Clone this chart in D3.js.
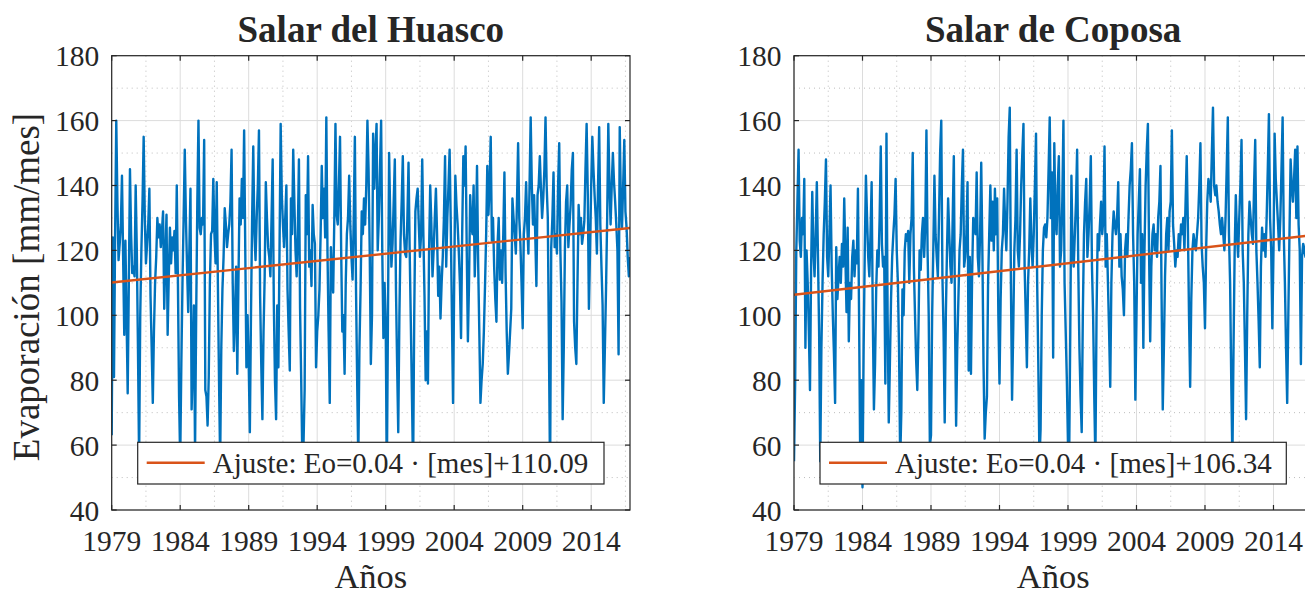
<!DOCTYPE html>
<html><head><meta charset="utf-8">
<script src="https://cdn.jsdelivr.net/npm/d3@7"></script>
<style>
body{margin:0;background:#fff}
svg{display:block}
text{font-family:"Liberation Serif","Times New Roman",serif;fill:#262626}
</style>
</head><body>
<svg id="chart" width="1305" height="595"></svg>
<script>
// ---------- data ----------
const startYear = 1979;
const yearTicks = [1979, 1984, 1989, 1994, 1999, 2004, 2009, 2014];
const yTicks = [40, 60, 80, 100, 120, 140, 160, 180];
const titles = ["Salar del Huasco", "Salar de Coposa"];
const legendLabels = ["Ajuste: Eo=0.04 \u00B7 [mes]+110.09", "Ajuste: Eo=0.04 \u00B7 [mes]+106.34"];
const xLabel = "Años";
const yLabel = "Evaporación [mm/mes]";

// monthly evaporation, Jan 1979 .. Nov 2016
const huasco = [
 63,124,81,125,160,135,117,122,128,143,118,94,
 123,100,76,110,145,125,113,115,112,140,120,90,
 55,100,120,135,155,130,116,122,128,139,106,90,
 73,95,110,118,130,124,128,121,126,132,102,118,
 131,94,112,127,116,124,120,126,113,140,110,75,
 55,85,110,130,151,130,115,101,120,139,71,85,
 103,58,100,135,160,127,125,130,128,154,77,75,
 66,81,110,125,126,142,125,116,141,110,80,55,
 90,108,118,133,128,121,125,128,135,151,110,89,
 100,115,82,110,136,128,142,130,157,120,84,100,
 85,64,100,130,152,125,117,130,140,157,106,85,
 68,95,112,141,130,121,118,112,130,148,104,80,
 68,103,84,120,159,137,128,121,130,140,108,95,
 83,136,125,151,135,120,112,125,148,102,80,55,
 60,77,137,125,149,115,120,109,134,125,122,84,
 95,100,108,125,146,130,139,124,161,120,95,73,
 121,112,107,130,159,131,128,140,155,120,95,100,
 82,110,125,130,143,128,118,111,130,155,108,80,
 55,90,108,132,125,136,128,140,160,145,120,85,
 100,156,139,150,159,120,130,145,160,120,93,110,
 98,50,100,150,130,115,122,135,148,108,85,64,
 100,123,135,149,125,119,118,130,147,120,98,75,
 52,100,132,136,139,128,118,125,148,125,106,80,
 95,79,120,140,128,112,120,130,139,125,106,115,
 99,110,118,130,149,115,130,140,151,128,100,73,
 110,143,134,128,120,110,93,125,149,140,152,120,
 92,110,137,128,125,140,112,125,146,116,95,73,
 80,85,95,109,125,146,131,140,155,123,130,115,
 105,98,122,130,111,120,110,125,144,113,95,82,
 88,95,102,136,130,125,119,135,153,130,122,110,
 96,125,130,141,128,119,140,161,140,128,137,125,
 109,137,140,149,139,130,136,145,161,140,130,90,
 50,121,130,144,121,125,119,140,153,120,104,68,
 90,121,135,140,121,128,134,145,150,98,90,85,
 110,134,125,130,122,125,129,145,159,138,102,120,
 140,155,145,137,130,119,140,158,128,115,103,73,
 90,108,130,159,140,128,140,150,141,135,128,120,
 88,158,135,127,140,154,132,127,118,112,118
];
const coposa = [
 55,79,120,135,151,123,118,130,125,142,90,120,
 110,95,77,115,138,120,112,125,141,118,95,55,
 90,110,125,135,148,118,112,125,140,115,100,88,
 73,121,105,112,118,110,122,115,136,118,101,127,
 92,110,105,118,123,112,120,116,139,100,55,80,
 47,90,120,143,130,118,112,125,141,100,71,85,
 108,120,115,130,152,122,115,118,79,156,100,67,
 85,105,118,125,131,142,120,110,90,55,70,108,
 100,120,125,123,126,110,125,130,150,115,100,86,
 77,95,120,114,125,130,118,128,157,120,100,60,
 63,100,120,143,125,118,112,130,150,160,112,95,
 67,100,120,136,125,115,110,130,149,100,66,90,
 105,120,125,140,151,115,118,125,141,83,118,82,
 112,130,128,125,144,118,112,125,147,120,85,62,
 70,75,110,125,140,123,135,120,139,125,136,100,
 79,105,120,125,139,128,120,135,155,164,110,74,
 95,120,130,151,120,115,125,140,150,159,115,100,
 84,110,120,136,122,115,125,140,156,110,85,55,
 65,100,120,127,128,124,130,145,161,130,144,87,
 153,130,125,140,149,115,120,135,160,110,95,80,
 60,55,95,143,120,115,125,135,151,115,90,75,
 64,100,125,135,142,118,125,135,149,115,100,75,
 55,100,125,120,128,135,125,130,152,115,125,110,
 95,78,110,125,132,128,125,130,141,115,125,112,
 108,100,120,125,118,130,140,145,153,125,110,74,
 100,125,135,145,110,125,90,120,140,151,159,120,
 92,115,125,128,120,125,118,130,135,146,105,71,
 90,112,125,130,120,132,135,157,128,122,115,120,
 118,125,120,128,125,130,120,135,149,128,100,78,
 105,120,125,122,120,125,130,140,153,122,115,110,
 96,120,135,142,140,135,150,164,140,137,140,135,
 132,128,125,130,125,120,130,145,161,125,110,80,
 55,90,120,137,125,118,130,140,154,120,110,90,
 68,100,125,135,130,125,122,140,154,120,110,98,
 84,115,127,120,125,118,130,145,162,130,120,96,
 120,156,142,135,128,120,130,145,161,125,110,90,
 73,100,125,148,140,135,142,151,130,152,128,120,
 85,118,122,120,118,125,130,128,120,118,115
];
// fitted trend: values at first and last month
const trendHuasco = [110.09, 126.9];
const trendCoposa = [106.34, 124.7];

// ---------- layout ----------
const svg = d3.select("#chart");
const plotTop = 55.7, plotBottom = 510, plotW = 518.3;
const panels = [
  {x0: 111.7, data: huasco, trend: trendHuasco, title: titles[0], legend: legendLabels[0], ylabel: true},
  {x0: 794, data: coposa, trend: trendCoposa, title: titles[1], legend: legendLabels[1], ylabel: false}
];
const blue = "#0072BD", orange = "#D95319", axisCol = "#262626";

const nMonths = huasco.length;
const xDomain = [startYear, startYear + (nMonths - 1) / 12];
const y = d3.scaleLinear().domain([40, 180]).range([plotBottom, plotTop]);
const minorY = d3.range(50, 180, 20);
const minorX = yearTicks.map(t => t + 2.5);

panels.forEach((p, k) => {
  const x = d3.scaleLinear().domain(xDomain).range([p.x0, p.x0 + plotW]);
  const g = svg.append("g");
  const clipId = "clip" + k;
  svg.append("clipPath").attr("id", clipId).append("rect")
    .attr("x", p.x0).attr("y", plotTop).attr("width", plotW).attr("height", plotBottom - plotTop);

  // grid
  const grid = g.append("g");
  grid.selectAll(".mnx").data(minorX).enter().append("line")
    .attr("x1", d => x(d)).attr("x2", d => x(d)).attr("y1", plotTop).attr("y2", plotBottom)
    .attr("stroke", "#bdbdbd").attr("stroke-width", 1).attr("stroke-dasharray", "1,4");
  grid.selectAll(".mny").data(minorY).enter().append("line")
    .attr("x1", p.x0).attr("x2", p.x0 + plotW).attr("y1", d => y(d)).attr("y2", d => y(d))
    .attr("stroke", "#bdbdbd").attr("stroke-width", 1).attr("stroke-dasharray", "1,4");
  grid.selectAll(".mjx").data(yearTicks).enter().append("line")
    .attr("x1", d => x(d)).attr("x2", d => x(d)).attr("y1", plotTop).attr("y2", plotBottom)
    .attr("stroke", "#dcdcdc").attr("stroke-width", 1);
  grid.selectAll(".mjy").data(yTicks).enter().append("line")
    .attr("x1", p.x0).attr("x2", p.x0 + plotW).attr("y1", d => y(d)).attr("y2", d => y(d))
    .attr("stroke", "#dcdcdc").attr("stroke-width", 1);

  // data line
  const line = d3.line().x((d, i) => x(startYear + i / 12)).y(d => y(d));
  g.append("path").datum(p.data).attr("d", line).attr("clip-path", `url(#${clipId})`)
    .attr("fill", "none").attr("stroke", blue).attr("stroke-width", 2.4).attr("stroke-linejoin", "round");

  // trend
  g.append("line").attr("clip-path", `url(#${clipId})`)
    .attr("x1", x(xDomain[0])).attr("y1", y(p.trend[0]))
    .attr("x2", x(xDomain[1])).attr("y2", y(p.trend[1]))
    .attr("stroke", orange).attr("stroke-width", 2.4);

  // axes box
  const ax = g.append("g");
  ax.append("rect").attr("x", p.x0).attr("y", plotTop).attr("width", plotW).attr("height", plotBottom - plotTop)
    .attr("fill", "none").attr("stroke", axisCol).attr("stroke-width", 1.2);
  ax.selectAll(".tb").data(yearTicks).enter().append("line")
    .attr("x1", d => x(d)).attr("x2", d => x(d)).attr("y1", plotBottom).attr("y2", plotBottom - 5)
    .attr("stroke", axisCol).attr("stroke-width", 1.2);
  ax.selectAll(".tt").data(yearTicks).enter().append("line")
    .attr("x1", d => x(d)).attr("x2", d => x(d)).attr("y1", plotTop).attr("y2", plotTop + 5)
    .attr("stroke", axisCol).attr("stroke-width", 1.2);
  ax.selectAll(".tl").data(yTicks).enter().append("line")
    .attr("x1", p.x0).attr("x2", p.x0 + 5).attr("y1", d => y(d)).attr("y2", d => y(d))
    .attr("stroke", axisCol).attr("stroke-width", 1.2);
  ax.selectAll(".tr").data(yTicks).enter().append("line")
    .attr("x1", p.x0 + plotW).attr("x2", p.x0 + plotW - 5).attr("y1", d => y(d)).attr("y2", d => y(d))
    .attr("stroke", axisCol).attr("stroke-width", 1.2);

  ax.selectAll(".xl").data(yearTicks).enter().append("text")
    .attr("x", d => x(d)).attr("y", 550.5).attr("text-anchor", "middle")
    .style("font-size", "29.5px").text(d => d);
  ax.selectAll(".yl").data(yTicks).enter().append("text")
    .attr("x", p.x0 - 12.5).attr("y", d => y(d) + 10.5).attr("text-anchor", "end")
    .style("font-size", "29.5px").text(d => d);

  g.append("text").attr("x", p.x0 + plotW / 2).attr("y", 587.5).attr("text-anchor", "middle")
    .style("font-size", "34.5px").text(xLabel);
  if (p.ylabel) {
    g.append("text").attr("transform", `translate(39,287) rotate(-90)`)
      .attr("text-anchor", "middle").style("font-size", "37px").text(yLabel);
  }
  g.append("text").attr("x", p.x0 + plotW / 2).attr("y", 42).attr("text-anchor", "middle")
    .style("font-size", "37px").style("font-weight", "bold").text(p.title);

  // legend
  const lg = g.append("g");
  const lx = p.x0 + 26, ly = 442.3, lw = 466.3, lh = 41.7;
  lg.append("rect").attr("x", lx).attr("y", ly).attr("width", lw).attr("height", lh)
    .attr("fill", "#fff").attr("stroke", axisCol).attr("stroke-width", 1.2);
  lg.append("line").attr("x1", lx + 9).attr("x2", lx + 67).attr("y1", ly + 20.5).attr("y2", ly + 20.5)
    .attr("stroke", orange).attr("stroke-width", 2.4);
  lg.append("text").attr("x", lx + 75).attr("y", ly + 30.5).style("font-size", "29px").text(p.legend);
});
</script>
</body></html>
